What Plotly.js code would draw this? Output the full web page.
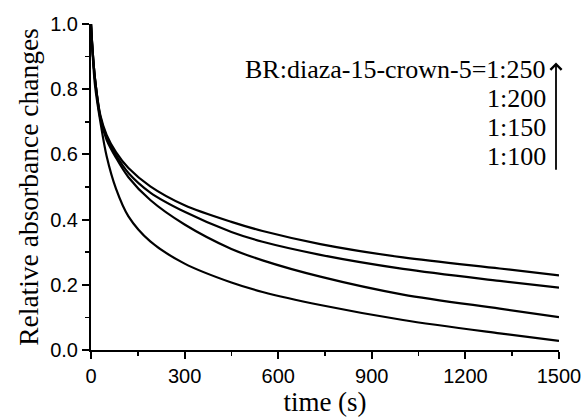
<!DOCTYPE html>
<html>
<head>
<meta charset="utf-8">
<script src="https://cdn.plot.ly/plotly-3.0.1.min.js"></script>
<style>html,body{margin:0;padding:0;background:#fff;}#chart{width:587px;height:418px;}</style>
</head>
<body>
<div id="chart"></div>
<script>
// time (s)
var time = [0, 5, 13, 30, 50, 80, 120, 190, 300, 450, 550, 735, 1000, 1310, 1500];
// relative absorbance changes for each BR:diaza-15-crown-5 ratio
var ratio250 = [1.0, 0.92, 0.83, 0.72, 0.66, 0.607, 0.558, 0.502, 0.444, 0.393, 0.365, 0.325, 0.284, 0.250, 0.229];
var ratio200 = [1.0, 0.92, 0.83, 0.715, 0.652, 0.598, 0.543, 0.483, 0.424, 0.362, 0.332, 0.292, 0.249, 0.212, 0.191];
var ratio150 = [1.0, 0.92, 0.83, 0.71, 0.645, 0.59, 0.53, 0.46, 0.385, 0.31, 0.275, 0.225, 0.170, 0.127, 0.101];
var ratio100 = [1.0, 0.91, 0.81, 0.70, 0.595, 0.495, 0.41, 0.333, 0.265, 0.207, 0.178, 0.138, 0.092, 0.051, 0.028];
var seriesNames = ["1:250", "1:200", "1:150", "1:100"];
var xTicks = [0, 300, 600, 900, 1200, 1500];
var yTicks = [0.0, 0.2, 0.4, 0.6, 0.8, 1.0];
var yTickText = ["0.0", "0.2", "0.4", "0.6", "0.8", "1.0"];
var labelTitle = "BR:diaza-15-crown-5=";

var allSeries = [ratio250, ratio200, ratio150, ratio100];
var traces = allSeries.map(function (ys, i) {
  return {
    x: time, y: ys, type: 'scatter', mode: 'lines', name: seriesNames[i],
    line: {color: '#000', width: 2.2, shape: 'spline', smoothing: 0.9},
    showlegend: false, cliponaxis: true
  };
});

var serif = '"Liberation Serif", "Times New Roman", serif';
var sans = '"Liberation Sans", Arial, sans-serif';

var annotations = [
  {text: labelTitle + seriesNames[0], x: 548, y: 69},
  {text: seriesNames[1], x: 548, y: 98},
  {text: seriesNames[2], x: 548, y: 127},
  {text: seriesNames[3], x: 548, y: 156}
].map(function (a) {
  return {
    text: a.text, xref: 'paper', yref: 'paper',
    x: (a.x - 91) / (559 - 91), y: 1 - (a.y - 23.5) / (350 - 23.5),
    xanchor: 'right', yanchor: 'middle', showarrow: false,
    font: {family: serif, size: 26, color: '#000'}
  };
});
// upward arrow
annotations.push({
  xref: 'paper', yref: 'paper', axref: 'paper', ayref: 'paper',
  x: (556 - 91) / 468, y: 1 - (62 - 23.5) / 326.5,
  ax: (556 - 91) / 468, ay: 1 - (171 - 23.5) / 326.5,
  showarrow: true, arrowhead: 4, arrowsize: 1.2, arrowwidth: 1.8, arrowcolor: '#000', text: ''
});

var layout = {
  width: 587, height: 418,
  margin: {l: 91, r: 28, t: 23.5, b: 68},
  paper_bgcolor: '#fff', plot_bgcolor: '#fff',
  showlegend: false,
  xaxis: {
    range: [0, 1500], tickvals: xTicks, ticks: 'outside', ticklen: 7, tickwidth: 2, tickcolor: '#000',
    minor: {dtick: 150, ticks: 'outside', ticklen: 4, tickwidth: 1.5, tickcolor: '#000', showgrid: false},
    showline: true, linecolor: '#000', linewidth: 2, showgrid: false, zeroline: false,
    tickfont: {family: sans, size: 20, color: '#000'},
    title: {text: 'time (s)', font: {family: serif, size: 27, color: '#000'}, standoff: 0}
  },
  yaxis: {
    range: [0, 1], tickvals: yTicks, ticktext: yTickText, ticks: 'outside', ticklen: 7, tickwidth: 2, tickcolor: '#000',
    minor: {dtick: 0.1, ticks: 'outside', ticklen: 4, tickwidth: 1.5, tickcolor: '#000', showgrid: false},
    showline: true, linecolor: '#000', linewidth: 2, showgrid: false, zeroline: false,
    tickfont: {family: sans, size: 20, color: '#000'},
    title: {text: 'Relative absorbance changes', font: {family: serif, size: 27.5, color: '#000'}, standoff: 4}
  },
  annotations: annotations
};

Plotly.newPlot('chart', traces, layout, {displayModeBar: false, staticPlot: true});
</script>
</body>
</html>
